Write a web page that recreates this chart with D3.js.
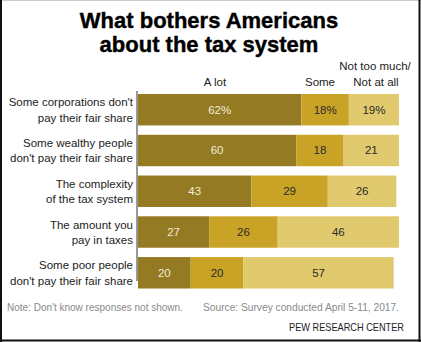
<!DOCTYPE html>
<html><head><meta charset="utf-8">
<script src="https://cdn.jsdelivr.net/npm/d3@7"></script>
<style>body{margin:0;background:#fff}svg{display:block}</style>
</head><body>
<script>
const categories = [
  ["Some corporations don't", "pay their fair share"],
  ["Some wealthy people", "don't pay their fair share"],
  ["The complexity", "of the tax system"],
  ["The amount you", "pay in taxes"],
  ["Some poor people", "don't pay their fair share"]
];
const seriesNames = ["A lot", "Some", "Not too much/Not at all"];
const aLot = [62, 60, 43, 27, 20];
const some = [18, 18, 29, 26, 20];
const notMuch = [19, 21, 26, 46, 57];
const colors = ["#947a22", "#c9a326", "#e1c96e"];
const textColors = ["#f3ecd6", "#2a2a2a", "#2a2a2a"];

const W = 421, H = 342;
const svg = d3.select("body").append("svg").attr("width", W).attr("height", H);
const font = "Arial, 'Liberation Sans', sans-serif";

// border
svg.append("line").attr("x1",0).attr("x2",W).attr("y1",0.5).attr("y2",0.5).attr("stroke","#ccc");
svg.append("line").attr("x1",1).attr("x2",1).attr("y1",0).attr("y2",H).attr("stroke","#111").attr("stroke-width",2);
svg.append("line").attr("x1",W-1.5).attr("x2",W-1.5).attr("y1",0).attr("y2",H).attr("stroke","#111").attr("stroke-width",2);
svg.append("line").attr("x1",0).attr("x2",W).attr("y1",H-1.5).attr("y2",H-1.5).attr("stroke","#111").attr("stroke-width",2);

// title
const title = svg.append("text").attr("text-anchor","middle").attr("font-family",font)
  .attr("font-weight","bold").attr("font-size",22).attr("fill","#000")
  .attr("stroke","#000").attr("stroke-width",0.4);
title.append("tspan").attr("x",209).attr("y",28).text("What bothers Americans");
title.append("tspan").attr("x",209).attr("y",52).text("about the tax system");

const x = d3.scaleLinear().domain([0, 100]).range([138, 138 + 263.6]);
const y = d3.scaleBand().domain(d3.range(categories.length)).range([94, 94 + 5*38.9]).paddingInner(8.9/38.9).paddingOuter(0);

const rows = categories.map((c, i) => ({c, vals: [aLot[i], some[i], notMuch[i]]}));

const g = svg.append("g");
rows.forEach((r, i) => {
  let start = 0;
  r.vals.forEach((v, k) => {
    g.append("rect").attr("x", x(start)).attr("y", y(i)).attr("width", x(start+v)-x(start))
      .attr("height", y.bandwidth()).attr("fill", colors[k]);
    g.append("text").attr("x", (x(start)+x(start+v))/2).attr("y", y(i)+y.bandwidth()/2+4)
      .attr("text-anchor","middle").attr("font-family",font).attr("font-size",11.5)
      .attr("fill", textColors[k]).text(i===0 ? v+"%" : v);
    start += v;
  });
  const lt = svg.append("text").attr("text-anchor","end").attr("font-family",font)
    .attr("font-size",11.5).attr("fill","#222");
  const cy = y(i)+y.bandwidth()/2;
  lt.append("tspan").attr("x",133).attr("y",cy-3.5).text(r.c[0]);
  lt.append("tspan").attr("x",133).attr("y",cy+12).text(r.c[1]);
});

// axis line
svg.append("line").attr("x1",137).attr("x2",137).attr("y1",91).attr("y2",281).attr("stroke","#333").attr("stroke-width",1);

// column headers
const hdr = svg.append("g").attr("font-family",font).attr("font-size",11.5).attr("fill","#222").attr("text-anchor","middle");
hdr.append("text").attr("x",215).attr("y",86).text(seriesNames[0]);
hdr.append("text").attr("x",320).attr("y",86).text(seriesNames[1]);
hdr.append("text").attr("x",375).attr("y",70).text("Not too much/");
hdr.append("text").attr("x",376).attr("y",86).text("Not at all");

// footer
const ft = svg.append("g").attr("font-family",font).attr("font-size",10);
ft.append("text").attr("x",7).attr("y",311).attr("fill","#8a8a8a").text("Note: Don't know responses not shown.");
ft.append("text").attr("x",203).attr("y",311).attr("fill","#8a8a8a").attr("textLength",196).attr("lengthAdjust","spacingAndGlyphs").text("Source: Survey conducted April 5-11, 2017.");
ft.append("text").attr("x",289).attr("y",331).attr("fill","#222").attr("font-size",10.5)
  .attr("textLength",115).attr("lengthAdjust","spacingAndGlyphs").text("PEW RESEARCH CENTER");
</script>
</body></html>
